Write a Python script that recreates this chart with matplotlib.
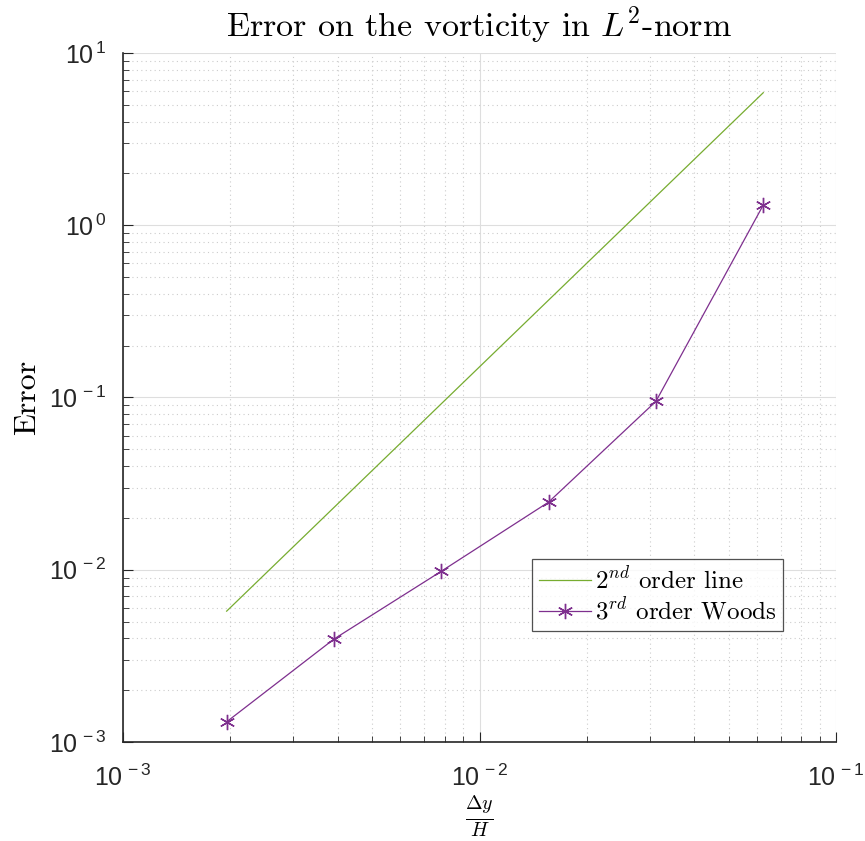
import matplotlib.pyplot as plt
import numpy as np

plt.rcParams['mathtext.fontset'] = 'custom'
plt.rcParams['mathtext.rm'] = 'Liberation Sans'
plt.rcParams['mathtext.it'] = 'Liberation Sans:italic'
plt.rcParams['font.family'] = ['Liberation Sans', 'DejaVu Sans']

# data (dy/H and errors)
dy = [1/512, 1/256, 1/128, 1/64, 1/32, 1/16]
err_woods = [1.31e-3, 3.96e-3, 9.8e-3, 2.47e-2, 9.5e-2, 1.31]
line_x = [1/512, 1/16]
line_y = [5.75e-3, 5.88]

green = (0.466, 0.674, 0.188)
purple = (0.494, 0.184, 0.556)

fig = plt.figure(figsize=(8.65, 8.41), dpi=100)
ax = fig.add_axes([0.1422, 0.1177, 0.8243, 0.8193])

ax.loglog(line_x, line_y, color=green, lw=0.9, label=r'$2^{nd}$ order line')
ax.loglog(dy, err_woods, color=purple, lw=0.9, marker=(6, 2, 0), markersize=11,
          markeredgewidth=1.0, label=r'$3^{rd}$ order Woods')

ax.set_xlim(1e-3, 1e-1)
ax.set_ylim(1e-3, 1e1)

ax.grid(True, which='major', color='0.87', lw=0.8, ls='-')
ax.grid(True, which='minor', color='0.8', lw=0.8, ls=(0, (1, 3)))
ax.set_axisbelow(True)

for s in ['top', 'right']:
    ax.spines[s].set_visible(False)
for s in ['left', 'bottom']:
    ax.spines[s].set_color('0.15')
    ax.spines[s].set_linewidth(1.2)

ax.tick_params(which='both', direction='in', colors='0.15')
ax.tick_params(which='major', length=7, labelsize=18)
ax.tick_params(axis='x', which='major', pad=16)
ax.tick_params(axis='y', which='major', pad=12)
ax.tick_params(which='minor', length=4)

ax.set_xticks([1e-3, 1e-2, 1e-1])
ax.set_xticklabels([r'$10^{\,-3}$', r'$10^{\,-2}$', r'$10^{\,-1}$'])
ax.set_yticks([1e-3, 1e-2, 1e-1, 1e0, 1e1])
ax.set_yticklabels([r'$10^{\,-3}$', r'$10^{\,-2}$', r'$10^{\,-1}$', r'$10^{\,0}$', r'$10^{\,1}$'])
for t in ax.get_xticklabels() + ax.get_yticklabels():
    t.set_color('0.15')

ax.set_title(r'Error on the vorticity in $L^2$-norm', fontfamily='cmr10',
             math_fontfamily='cm', fontsize=24.5, pad=12)
ax.set_xlabel(r'$\frac{\Delta y}{H}$', fontsize=20.5, math_fontfamily='cm')
ax.xaxis.label.set_va('center')
ax.xaxis.set_label_coords(0.5, -0.107)
ax.set_ylabel('Error', fontfamily='cmr10', fontsize=23, labelpad=6)

leg = ax.legend(loc='lower right', bbox_to_anchor=(0.925, 0.161), fontsize=18,
                frameon=True, fancybox=False, handlelength=2.1, borderpad=0.25,
                labelspacing=0.15, handletextpad=0.15, borderaxespad=0)
leg.get_frame().set_edgecolor('0.15')
leg.get_frame().set_linewidth(0.9)
for t in leg.get_texts():
    t.set_math_fontfamily('cm')
    t.set_fontfamily('cmr10')

fig.savefig('out.png', dpi=100)
